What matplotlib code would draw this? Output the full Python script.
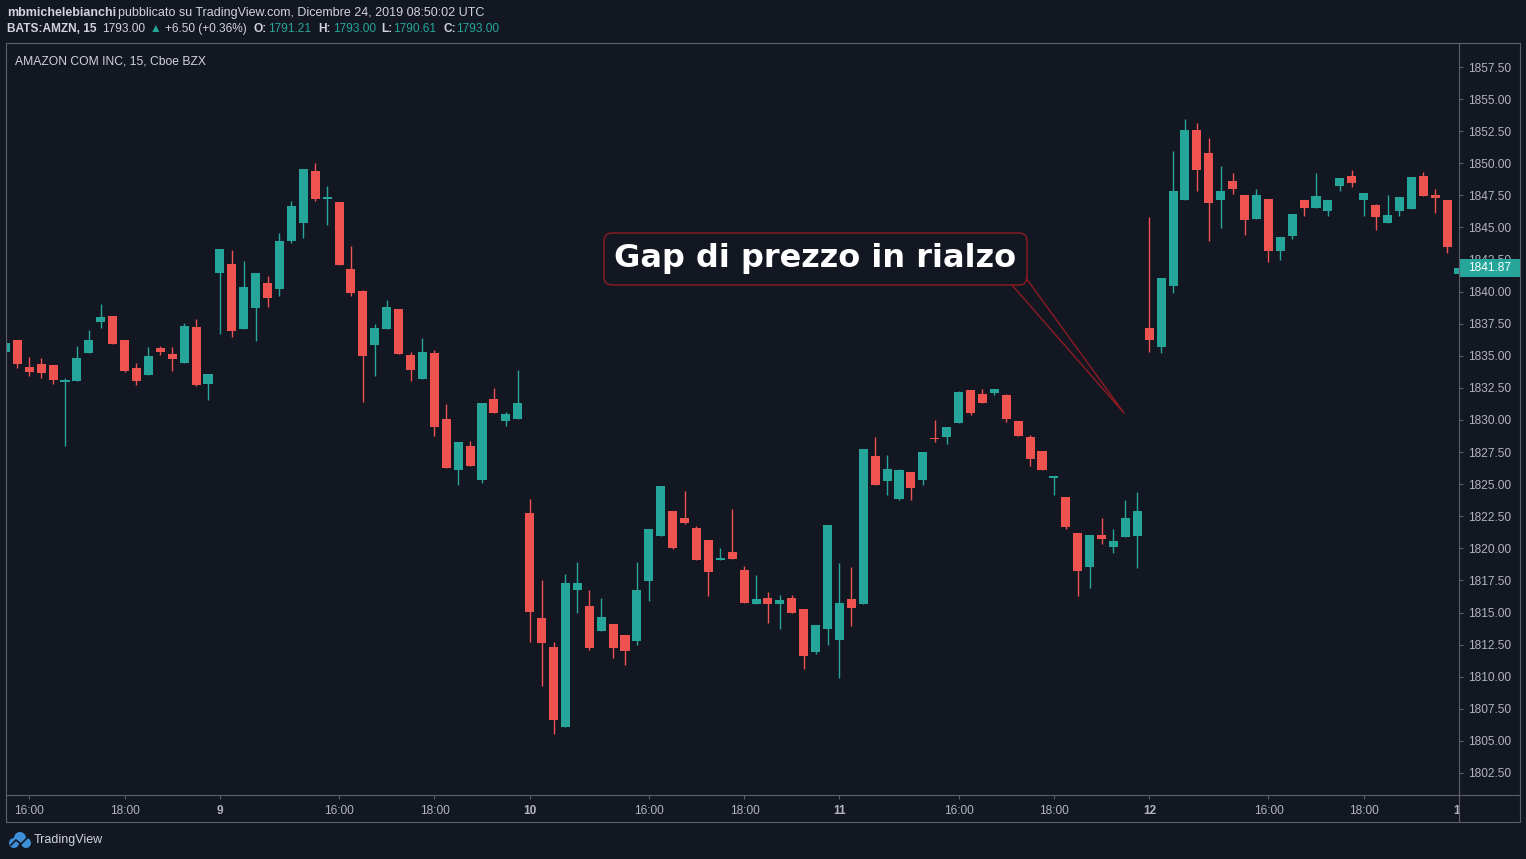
import numpy as np
import matplotlib
matplotlib.use("Agg")
import matplotlib.pyplot as plt
import matplotlib.transforms as mtransforms
from matplotlib.patches import Rectangle, FancyBboxPatch, Circle

plt.rcParams['font.family'] = ['Liberation Sans', 'DejaVu Sans']

# 15-min bars, index 0 = first bar of the Dec 9 session (26 bars per session)
FIRST_IDX = -18

OPEN = [
    # Dec 6 (tail)
    1835.30, 1836.23, 1834.13, 1834.36, 1834.28, 1832.98, 1833.06, 1835.24, 1837.63,
    1838.10, 1836.23, 1834.05, 1833.53, 1835.61, 1835.14, 1834.46, 1837.24, 1832.83,
    # Dec 9
    1841.47, 1842.16, 1837.11, 1838.75, 1840.67, 1840.23, 1843.97, 1845.37, 1849.40,
    1847.24, 1846.98, 1841.76, 1840.05, 1835.86, 1837.11, 1838.65, 1835.06, 1833.22,
    1835.22, 1830.08, 1826.13, 1827.97, 1825.35, 1831.63, 1829.94, 1830.10,
    # Dec 10
    1822.75, 1814.57, 1812.31, 1806.10, 1816.78, 1815.51, 1813.58, 1814.10, 1813.25,
    1812.80, 1817.48, 1820.99, 1822.91, 1822.36, 1821.58, 1820.65, 1819.11, 1819.71,
    1818.31, 1815.69, 1816.13, 1815.69, 1816.13, 1815.27, 1811.95, 1813.74,
    # Dec 11
    1812.88, 1816.05, 1815.69, 1827.19, 1825.27, 1823.84, 1825.95, 1825.35, 1828.60,
    1828.67, 1829.76, 1832.34, 1832.02, 1832.10, 1831.95, 1829.92, 1828.67, 1827.58,
    1825.48, 1823.99, 1821.19, 1818.55, 1821.04, 1820.10, 1820.88, 1820.96,
    # Dec 12
    1837.17, 1835.69, 1840.44, 1847.14, 1852.59, 1850.80, 1847.14, 1848.62, 1847.53,
    1845.66, 1847.22, 1843.17, 1844.33, 1847.14, 1846.52, 1846.28, 1848.23, 1849.01,
    1847.14, 1846.75, 1845.35, 1846.28, 1846.44, 1849.01, 1847.53, 1847.14,
    # Dec 13
    1841.37,
]
HIGH = [
    1836.00, 1836.23, 1834.91, 1834.83, 1834.28, 1833.25, 1835.76, 1837.01, 1839.04,
    1838.10, 1836.23, 1834.44, 1835.69, 1835.76, 1835.69, 1837.56, 1837.87, 1833.58,
    1843.32, 1843.24, 1842.39, 1841.45, 1841.22, 1844.57, 1847.06, 1849.55, 1850.02,
    1848.23, 1846.98, 1843.55, 1840.13, 1837.48, 1839.35, 1838.65, 1835.30, 1836.39,
    1835.45, 1831.24, 1828.28, 1828.36, 1831.32, 1832.49, 1830.62, 1833.89,
    1823.84, 1817.53, 1812.70, 1818.00, 1818.93, 1816.75, 1816.13, 1814.10, 1813.25,
    1818.93, 1821.51, 1824.85, 1822.91, 1824.47, 1821.74, 1820.65, 1820.03, 1823.06,
    1818.62, 1817.92, 1816.60, 1816.36, 1816.36, 1815.27, 1814.03, 1821.82,
    1818.86, 1818.55, 1827.74, 1828.67, 1827.27, 1826.18, 1825.95, 1827.50, 1829.99,
    1829.45, 1832.26, 1832.34, 1832.41, 1832.41, 1832.02, 1829.92, 1828.83, 1827.58,
    1825.64, 1823.99, 1821.19, 1821.04, 1822.36, 1821.50, 1823.76, 1824.39,
    1845.81, 1841.05, 1850.96, 1853.45, 1853.14, 1851.97, 1849.79, 1849.24, 1847.53,
    1848.00, 1847.22, 1844.26, 1846.05, 1847.14, 1849.24, 1847.14, 1848.85, 1849.48,
    1847.68, 1846.83, 1847.53, 1847.37, 1848.93, 1849.32, 1848.00, 1847.14,
    1841.87,
]
LOW = [
    1835.30, 1834.07, 1833.45, 1833.29, 1832.83, 1828.00, 1833.06, 1835.24, 1837.19,
    1835.94, 1833.76, 1832.75, 1833.53, 1835.09, 1833.84, 1834.46, 1832.67, 1831.58,
    1836.72, 1836.49, 1837.11, 1836.18, 1838.82, 1839.68, 1843.81, 1844.20, 1847.08,
    1845.21, 1842.10, 1839.68, 1831.42, 1833.45, 1837.11, 1835.16, 1833.06, 1833.22,
    1828.77, 1826.28, 1824.96, 1826.44, 1825.11, 1830.57, 1829.55, 1830.10,
    1812.72, 1809.30, 1805.56, 1806.10, 1814.98, 1812.10, 1813.58, 1811.48, 1810.93,
    1812.49, 1815.92, 1820.99, 1819.97, 1821.92, 1819.11, 1816.31, 1819.11, 1819.19,
    1815.76, 1815.69, 1814.21, 1813.74, 1814.99, 1810.62, 1811.79, 1812.49,
    1809.92, 1813.97, 1815.69, 1824.96, 1824.18, 1823.76, 1823.76, 1824.96, 1828.28,
    1828.13, 1829.76, 1830.39, 1831.32, 1831.95, 1829.84, 1828.75, 1826.41, 1826.10,
    1824.16, 1821.50, 1816.28, 1816.91, 1820.34, 1819.64, 1820.88, 1818.47,
    1835.30, 1835.22, 1839.89, 1847.14, 1847.84, 1843.94, 1844.96, 1847.61, 1844.41,
    1845.66, 1842.31, 1842.46, 1844.10, 1845.89, 1846.52, 1845.89, 1847.84, 1848.15,
    1845.89, 1844.80, 1845.35, 1845.89, 1846.44, 1847.45, 1846.13, 1843.01,
    1841.37,
]
CLOSE = [
    1836.00, 1834.36, 1833.76, 1833.68, 1833.14, 1833.14, 1834.83, 1836.23, 1838.02,
    1835.94, 1833.84, 1833.06, 1834.98, 1835.32, 1834.77, 1837.32, 1832.75, 1833.58,
    1843.32, 1836.96, 1840.36, 1841.45, 1839.53, 1843.94, 1846.67, 1849.55, 1847.24,
    1847.40, 1842.10, 1839.92, 1835.01, 1837.17, 1838.80, 1835.16, 1833.92, 1835.30,
    1829.48, 1826.28, 1828.28, 1826.44, 1831.32, 1830.57, 1830.47, 1831.32,
    1815.06, 1812.65, 1806.65, 1817.30, 1817.30, 1812.26, 1814.65, 1812.26, 1812.02,
    1816.75, 1821.51, 1824.85, 1820.05, 1822.00, 1819.11, 1818.18, 1819.25, 1819.19,
    1815.76, 1816.05, 1815.69, 1815.97, 1814.99, 1811.63, 1814.03, 1821.82,
    1815.74, 1815.37, 1827.74, 1824.96, 1826.18, 1826.10, 1824.72, 1827.50, 1828.52,
    1829.45, 1832.18, 1830.54, 1831.32, 1832.41, 1830.08, 1828.75, 1826.96, 1826.10,
    1825.64, 1821.66, 1818.23, 1821.04, 1820.73, 1820.57, 1822.36, 1822.91,
    1836.23, 1841.05, 1847.84, 1852.59, 1849.48, 1846.90, 1847.84, 1848.00, 1845.58,
    1847.53, 1843.17, 1844.26, 1846.05, 1846.52, 1847.45, 1847.14, 1848.85, 1848.46,
    1847.68, 1845.81, 1845.97, 1847.37, 1848.93, 1847.45, 1847.30, 1843.48,
    1841.87,
]

TIME_TICKS = [-16, -8, 0, 10, 18, 26, 36, 44, 52, 62, 70, 78, 88, 96, 104]
TIME_LABELS = ["16:00", "18:00", "9", "16:00", "18:00", "10", "16:00", "18:00",
               "11", "16:00", "18:00", "12", "16:00", "18:00", "13"]
PRICE_TICKS = np.arange(1802.5, 1858.0, 2.5)

BG = "#131722"
UP = "#26a69a"
DOWN = "#ef5350"
FRAME = "#5d606b"
TEXT = "#d1d4dc"
AXIS_TEXT = "#b2b5be"
CALLOUT = "#8e1b22"

W, H = 1526, 859


def rect(x0, y0, x1, y1):
    """pixel box (top-left origin) -> figure fraction rect"""
    return [x0 / W, 1 - y1 / H, (x1 - x0) / W, (y1 - y0) / H]


fig = plt.figure(figsize=(W / 100, H / 100), dpi=100, facecolor=BG)

# pane geometry: bar slot width and pixel position of index 0
SLOT = 11.92
X_ZERO = 220
x_lo = (6 - X_ZERO) / SLOT
x_hi = (1459 - X_ZERO) / SLOT
PX_PER_UNIT = 32.09 / 2.5
y_hi = 1857.5 + (67 - 43) / PX_PER_UNIT
y_lo = 1857.5 - (795 - 67) / PX_PER_UNIT

ax = fig.add_axes(rect(6, 43, 1459, 795))
ax.set_facecolor(BG)
ax.set_xlim(x_lo, x_hi)
ax.set_ylim(y_lo, y_hi)

idx = np.arange(FIRST_IDX, FIRST_IDX + len(OPEN))
o, h, l, c = (np.array(v) for v in (OPEN, HIGH, LOW, CLOSE))
colors = np.where(c >= o, UP, DOWN)

ax.vlines(idx, l, h, colors=colors, linewidth=1.0, zorder=2)
ax.bar(idx, np.maximum(np.abs(c - o), 0.1), bottom=np.minimum(o, c),
       width=0.76, color=colors, linewidth=0, zorder=3)

for s in ax.spines.values():
    s.set_visible(False)
ax.yaxis.tick_right()
ax.set_yticks(PRICE_TICKS)
ax.set_yticklabels([f"{v:.2f}" for v in PRICE_TICKS])
ax.tick_params(axis="y", colors=FRAME, labelcolor=AXIS_TEXT, labelsize=8.6,
               length=3, width=0.8, pad=3.5)
ax.set_xticks(TIME_TICKS)
ax.set_xticklabels([])
ax.tick_params(axis="x", colors=FRAME, length=3, width=0.8)

# last price marker on the price scale (covers the 1842.50 label, as in TradingView)
last = CLOSE[-1]
trans = mtransforms.blended_transform_factory(ax.transAxes, ax.transData)
ax.add_patch(Rectangle((1 + 1 / 1453, last - 9 / PX_PER_UNIT), 60 / 1453,
                       18 / PX_PER_UNIT, transform=trans, fc=UP, ec="none",
                       clip_on=False, zorder=10))
ax.text(1 + 9 / 1453, last, f"{last:.2f}", transform=trans, color="white",
        fontsize=8.6, va="center", ha="left", clip_on=False, zorder=11)

# time scale
tax = fig.add_axes(rect(6, 795, 1459, 822))
tax.set_xlim(x_lo, x_hi)
tax.set_ylim(0, 1)
tax.axis("off")
tax.patch.set_alpha(0)
for t, lab in zip(TIME_TICKS, TIME_LABELS):
    tax.text(t, 0.42, lab, ha="center", va="center", color=AXIS_TEXT,
             fontsize=8.6, fontweight="bold" if ":" not in lab else "normal",
             clip_on=True)

# overlay in pixel coordinates for frame, header and callout
ov = fig.add_axes([0, 0, 1, 1], zorder=5)
ov.set_xlim(0, W)
ov.set_ylim(H, 0)
ov.axis("off")
ov.patch.set_alpha(0)

ov.plot([6, 1520, 1520, 6, 6], [43, 43, 822, 822, 43], color=FRAME, lw=0.8)
ov.plot([1459, 1459], [43, 822], color=FRAME, lw=0.8)
ov.plot([6, 1520], [795, 795], color=FRAME, lw=0.8)

hdr = dict(color=TEXT, fontsize=9, va="center", ha="left")
ov.text(7, 13, "mbmichelebianchi", fontweight="bold", **hdr)
ov.text(118, 13, "pubblicato su TradingView.com, Dicembre 24, 2019 08:50:02 UTC", **hdr)

hdr2 = {**hdr, "fontsize": 8.6}
ov.text(7, 29, "BATS:AMZN, 15", fontweight="bold", **hdr2)
ov.text(102, 29, "1793.00", **hdr2)
ov.text(150, 29, "\u25b2", **{**hdr2, "color": UP, "fontsize": 8.5})
ov.text(165, 29, "+6.50 (+0.36%)", **hdr2)
for xl, lab, xv, val in [(254, "O:", 268, "1791.21"), (318, "H:", 333, "1793.00"),
                         (381, "L:", 393, "1790.61"), (443, "C:", 456, "1793.00")]:
    ov.text(xl, 29, lab, fontweight="bold", **hdr2)
    ov.text(xv, 29, val, **{**hdr2, "color": UP})
ov.text(15, 61, "AMAZON COM INC, 15, Cboe BZX", **{**hdr, "fontsize": 8.7})

# callout
ov.add_patch(FancyBboxPatch((604, 233), 423, 52,
                            boxstyle="round,pad=0,rounding_size=8",
                            fc=BG, ec=CALLOUT, lw=1.0, zorder=3))
ov.plot([1012, 1124, 1026], [285, 413, 278], color=CALLOUT, lw=1.0, zorder=4)
ov.text(815, 259, "Gap di prezzo in rialzo", ha="center", va="center",
        fontsize=23, fontweight="bold", color="white", family="DejaVu Sans",
        zorder=5)

# footer logo
for cx, cy, r in [(14, 843, 5), (20, 838, 6), (26, 843, 5)]:
    ov.add_patch(Circle((cx, cy), r, fc="#3d8fd8", ec="none"))
ov.plot([11, 16, 21, 28], [845, 840, 844, 837], color=BG, lw=1.2)
ov.text(34, 840, "TradingView", color=TEXT, fontsize=9, va="center", ha="left")

fig.savefig("out.png", dpi=100, facecolor=BG)
